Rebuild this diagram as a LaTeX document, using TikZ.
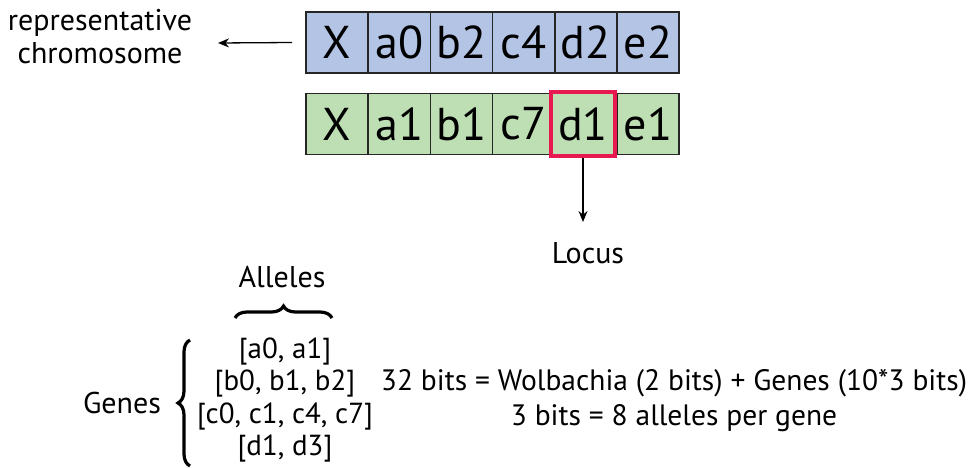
\documentclass[tikz,border=0pt]{standalone}
\usepackage{fontspec}
\setmainfont{PT Sans}
\usetikzlibrary{arrows.meta,decorations.pathreplacing}
\definecolor{repblue}{RGB}{180,196,228}
\definecolor{offgreen}{RGB}{190,222,180}
\definecolor{locusred}{RGB}{232,25,80}
\tikzset{
  cell/.style={draw=black!85, line width=1.6pt, minimum width=62.2pt,
    minimum height=61pt, inner sep=0pt, font=\fontsize{46}{48}\selectfont},
  repcell/.style={cell, fill=repblue},
  offcell/.style={cell, fill=offgreen},
  locuscell/.style={offcell, draw=locusred, line width=3.6pt, minimum width=64pt, minimum height=64pt},
  label/.style={font=\fontsize{30}{33}\selectfont, align=center, inner sep=0pt},
  arr/.style={-{Stealth[length=11pt,width=9pt]}, line width=1.3pt},
  curly/.style={decorate, decoration={brace, amplitude=12pt}, line width=3.2pt}
}
\begin{document}
\begin{tikzpicture}[x=1pt, y=-1pt]
  \useasboundingbox (0,0) rectangle (980,468);
  % representative chromosome
  \draw
    (337.1,42.5) node[repcell] (r0){X}
    (399.3,42.5) node[repcell] (r1){a0}
    (461.5,42.5) node[repcell] (r2){b2}
    (523.7,42.5) node[repcell] (r3){c4}
    (585.9,42.5) node[repcell] (r4){d2}
    (648.1,42.5) node[repcell] (r5){e2};
  % second chromosome
  \draw
    (337.1,124) node[offcell] (g0){X}
    (399.3,124) node[offcell] (g1){a1}
    (461.5,124) node[offcell] (g2){b1}
    (523.7,124) node[offcell] (g3){c7}
    (648.1,124) node[offcell] (g5){e1}
    (583,124) node[locuscell] (g4){d1};
  % labels
  \node[label] (rep) at (100,37) {representative\\chromosome};
  \node[label] (locus) at (588,253) {Locus};
  \node[label] (alleles) at (282,277) {Alleles};
  \node[label] (genes) at (122,403) {Genes};
  \node[label, font=\fontsize{29}{32.5}\selectfont] (list) at (285,400)
    {[a0, a1]\\{}[b0, b1, b2]\\{}[c0, c1, c4, c7]\\{}[d1, d3]};
  \node[label, font=\fontsize{29.5}{35}\selectfont] (bits) at (674,401)
    {32 bits = Wolbachia (2 bits) + Genes (10*3 bits)\\3 bits = 8 alleles per gene};
  \coordinate (repend) at (218,43);
  \coordinate (locusend) at (583,222);
  \coordinate (al) at (235,318);
  \coordinate (ar) at (332,318);
  \coordinate (gb) at (190,466);
  \coordinate (gt) at (190,340);
  \begin{scope}[arr]
    \draw (r0.west) ++(-13,0) -- (repend);
    \draw (g4.south) -- (locusend);
  \end{scope}
  \draw[curly] (al) -- (ar);
  \draw[curly] (gb) -- (gt);
\end{tikzpicture}
\end{document}
